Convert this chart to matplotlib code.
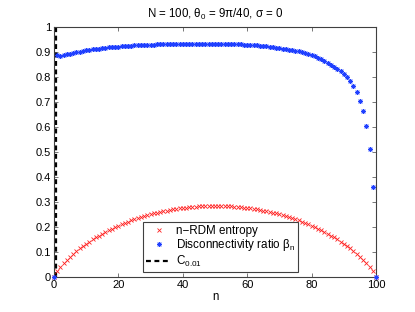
import matplotlib
matplotlib.use("Agg")
import matplotlib.pyplot as plt
import numpy as np

plt.rcParams['font.family'] = ['Liberation Sans', 'DejaVu Sans']
plt.rcParams['mathtext.fontset'] = 'custom'
plt.rcParams['mathtext.rm'] = 'Liberation Sans'
plt.rcParams['mathtext.it'] = 'Liberation Sans'

n = np.arange(0, 101)

# n-RDM entropy (symmetric about n = 50)
entropy_half = [0.000, 0.023, 0.040, 0.055, 0.069, 0.082, 0.093, 0.104, 0.115, 0.124,
                0.134, 0.142, 0.151, 0.159, 0.166, 0.174, 0.181, 0.187, 0.194, 0.200,
                0.206, 0.211, 0.217, 0.222, 0.227, 0.231, 0.236, 0.240, 0.244, 0.248,
                0.251, 0.255, 0.258, 0.261, 0.264, 0.266, 0.269, 0.271, 0.273, 0.275,
                0.277, 0.278, 0.280, 0.281, 0.282, 0.283, 0.284, 0.284, 0.285, 0.285,
                0.285]
entropy = entropy_half + entropy_half[-2::-1]

# disconnectivity ratio beta_n
beta = [0.000, 0.890, 0.886, 0.888, 0.891, 0.894, 0.897, 0.900, 0.902, 0.905,
        0.907, 0.909, 0.911, 0.913, 0.914, 0.916, 0.917, 0.919, 0.920, 0.921,
        0.922, 0.923, 0.924, 0.925, 0.926, 0.927, 0.927, 0.928, 0.929, 0.929,
        0.930, 0.930, 0.931, 0.931, 0.931, 0.932, 0.932, 0.932, 0.932, 0.932,
        0.932, 0.932, 0.932, 0.932, 0.932, 0.932, 0.932, 0.932, 0.932, 0.932,
        0.932, 0.932, 0.932, 0.932, 0.932, 0.932, 0.932, 0.931, 0.931, 0.930,
        0.930, 0.929, 0.928, 0.927, 0.926, 0.924, 0.923, 0.921, 0.920, 0.918,
        0.916, 0.914, 0.912, 0.910, 0.908, 0.905, 0.903, 0.900, 0.897, 0.893,
        0.888, 0.883, 0.877, 0.871, 0.864, 0.857, 0.850, 0.842, 0.834, 0.825,
        0.814, 0.800, 0.783, 0.764, 0.739, 0.705, 0.664, 0.604, 0.514, 0.361,
        0.000]

c_threshold = 0.5

fig = plt.figure(figsize=(4.15, 3.12), dpi=100)
ax = fig.add_axes([0.130, 0.112, 0.776, 0.801])

ax.plot(n, entropy, linestyle='none', marker='x', color='#ff2020', markersize=3.2,
        markeredgewidth=0.6, label='n\u2212RDM entropy', clip_on=False, zorder=3)
ax.plot(n, beta, linestyle='none', marker=(8, 2, 0), color='#2040ff', markersize=3.6,
        markeredgewidth=0.6, label=r'Disconnectivity ratio $\beta_n$', clip_on=False, zorder=3)
ax.axvline(c_threshold, color='black', linestyle=(0, (2.2, 1.6)), linewidth=1.6,
           label=r'C$_{0.01}$')

ax.set_xlim(0, 100)
ax.set_ylim(0, 1)
ax.set_xticks(np.arange(0, 101, 20))
ax.set_yticks(np.arange(0, 1.01, 0.1))
ax.set_yticklabels(['0', '0.1', '0.2', '0.3', '0.4', '0.5', '0.6', '0.7', '0.8', '0.9', '1'])
ax.tick_params(direction='in', top=True, right=True, length=3, width=0.5,
               labelsize=8, pad=2, colors='#404040', labelcolor='black')
for s in ax.spines.values():
    s.set_linewidth(0.8)
    s.set_color('#404040')

ax.set_xlabel('n', fontsize=8.3, labelpad=1)
ax.set_title(r'N = 100, $\theta_0$ = 9$\pi$/40, $\sigma$ = 0', fontsize=8.3, pad=7)

leg = ax.legend(loc='lower left', bbox_to_anchor=(0.276, 0.02), fontsize=8.4,
                fancybox=False, framealpha=1, edgecolor='#404040', borderpad=0.25,
                handlelength=2.2, handletextpad=0.4, labelspacing=0.05, borderaxespad=0)
leg.get_frame().set_linewidth(0.8)

fig.savefig('out.png', dpi=100)
